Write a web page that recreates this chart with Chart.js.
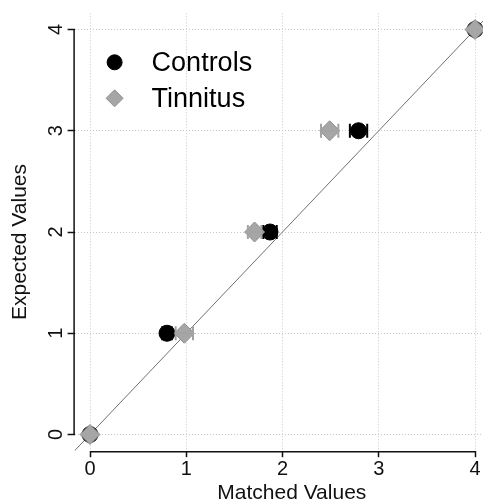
<!DOCTYPE html>
<html>
<head>
<meta charset="UTF-8">
<title>Expected vs Matched Values</title>
<script src="https://cdn.jsdelivr.net/npm/chart.js"></script>
<style>
  html, body { margin: 0; padding: 0; background: #fff; }
  #wrap { width: 483px; height: 504px; }
</style>
</head>
<body>
<div id="wrap"><canvas id="chart"></canvas></div>
<script>
// values
var tickValues = [0, 1, 2, 3, 4];
var expected = [0, 1, 2, 3, 4];
var controlsX = [0, 0.80, 1.87, 2.79, 4];
var controlsErr = [0, 0.05, 0.07, 0.09, 0];
var tinnitusX = [0, 0.98, 1.71, 2.49, 4];
var tinnitusErr = [0, 0.09, 0.07, 0.09, 0];
var identityLine = [-1, 6];

var FONT = '"Liberation Sans", Arial, Helvetica, sans-serif';

function points(xs) {
    return xs.map(function (x, i) { return {x: x, y: expected[i]}; });
}

// horizontal error bars, drawn right after each dataset
var errorBars = {
    id: 'errorBars',
    afterDatasetDraw: function (chart, args) {
        var ds = chart.data.datasets[args.index];
        if (!ds.errors) return;
        var xs = chart.scales.x, ys = chart.scales.y, ctx = chart.ctx;
        ctx.save();
        ctx.strokeStyle = ds.errorColor;
        ctx.lineWidth = 2;
        ds.data.forEach(function (p, i) {
            var e = ds.errors[i];
            if (!e) return;
            var x1 = xs.getPixelForValue(p.x - e), x2 = xs.getPixelForValue(p.x + e);
            var y = ys.getPixelForValue(p.y);
            ctx.beginPath();
            ctx.moveTo(x1, y); ctx.lineTo(x2, y);
            ctx.moveTo(x1, y - 7); ctx.lineTo(x1, y + 7);
            ctx.moveTo(x2, y - 7); ctx.lineTo(x2, y + 7);
            ctx.stroke();
        });
        ctx.restore();
    }
};

// R style axis lines, legend and axis titles
var decorations = {
    id: 'decorations',
    afterDraw: function (chart) {
        var xs = chart.scales.x, ys = chart.scales.y, ctx = chart.ctx;
        var area = chart.chartArea;
        var first = tickValues[0], last = tickValues[tickValues.length - 1];
        ctx.save();
        ctx.strokeStyle = '#111';
        ctx.lineWidth = 1.5;
        ctx.beginPath();
        ctx.moveTo(area.left - 0.5, ys.getPixelForValue(first));
        ctx.lineTo(area.left - 0.5, ys.getPixelForValue(last));
        ctx.moveTo(xs.getPixelForValue(first), area.bottom + 1);
        ctx.lineTo(xs.getPixelForValue(last), area.bottom + 1);
        ctx.stroke();

        // legend
        var lx = area.left + 40, ly = area.top + 49;
        ctx.font = '27px ' + FONT;
        ctx.textBaseline = 'middle';
        ctx.textAlign = 'left';
        chart.data.datasets.forEach(function (ds, i) {
            if (!ds.errors) return;
            var cy = ly + i * 36;
            ctx.beginPath();
            if (ds.pointStyle === 'circle') {
                ctx.arc(lx, cy, 7.5, 0, Math.PI * 2);
            } else {
                ctx.moveTo(lx - 8.5, cy); ctx.lineTo(lx, cy - 8.5);
                ctx.lineTo(lx + 8.5, cy); ctx.lineTo(lx, cy + 8.5);
                ctx.closePath();
            }
            ctx.fillStyle = ds.backgroundColor;
            ctx.fill();
            ctx.strokeStyle = ds.borderColor;
            ctx.lineWidth = 1;
            ctx.stroke();
            ctx.fillStyle = '#000';
            ctx.fillText(ds.label, lx + 37, cy + 1);
        });

        // axis titles
        ctx.font = '21px ' + FONT;
        ctx.fillStyle = '#111';
        ctx.textAlign = 'center';
        ctx.textBaseline = 'middle';
        ctx.fillText('Matched Values', (area.left + area.right) / 2 + 13, 493);
        ctx.translate(20, (area.top + area.bottom) / 2 + 10);
        ctx.rotate(-Math.PI / 2);
        ctx.fillText('Expected Values', 0, 0);
        ctx.restore();
    }
};

var ctx = document.getElementById('chart').getContext('2d');
var chart = new Chart(ctx, {
    type: 'scatter',
    data: {
        datasets: [
            {
                label: 'Controls',
                data: points(controlsX),
                errors: controlsErr,
                errorColor: '#000',
                pointStyle: 'circle',
                pointRadius: 8,
                pointHoverRadius: 8,
                backgroundColor: '#000',
                borderColor: '#000',
                borderWidth: 1,
                clip: false,
                order: 1
            },
            {
                label: 'Tinnitus',
                data: points(tinnitusX),
                errors: tinnitusErr,
                errorColor: '#a3a3a3',
                pointStyle: 'rectRot',
                pointRadius: 10,
                pointHoverRadius: 10,
                backgroundColor: '#a6a6a6',
                borderColor: '#8f8f8f',
                borderWidth: 1,
                clip: false,
                order: 0
            },
            {
                label: 'identity',
                data: identityLine.map(function (v) { return {x: v, y: v}; }),
                showLine: true,
                borderColor: '#707070',
                borderWidth: 1,
                pointRadius: 0,
                order: 2
            }
        ]
    },
    options: {
        responsive: true,
        maintainAspectRatio: false,
        animation: false,
        layout: {autoPadding: false, padding: {top: 13.3, right: 0, bottom: 0, left: 0}},
        plugins: {
            legend: {display: false},
            tooltip: {enabled: false}
        },
        scales: {
            x: {
                type: 'linear',
                min: -0.16,
                max: 4.083,
                afterBuildTicks: function (scale) {
                    scale.ticks = tickValues.map(function (v) { return {value: v}; });
                },
                afterFit: function (scale) {
                    scale.height = 53.3;
                    scale.paddingLeft = 0;
                    scale.paddingRight = 0;
                },
                border: {display: false, dash: [1, 2]},
                grid: {color: '#c8c8c8', lineWidth: 1, tickLength: 6.5, tickColor: '#111', tickWidth: 1.5},
                ticks: {
                    color: '#111',
                    padding: 0,
                    font: {family: FONT, size: 20},
                    maxRotation: 0
                }
            },
            y: {
                type: 'linear',
                min: -0.16,
                max: 4.16,
                afterBuildTicks: function (scale) {
                    scale.ticks = tickValues.map(function (v) { return {value: v}; });
                },
                afterFit: function (scale) {
                    scale.width = 74.6;
                    scale.paddingTop = 0;
                    scale.paddingBottom = 0;
                },
                border: {display: false, dash: [1, 2]},
                grid: {color: '#c8c8c8', lineWidth: 1, tickLength: 7, tickColor: '#111', tickWidth: 1.5},
                ticks: {
                    color: '#111',
                    padding: 6,
                    crossAlign: 'center',
                    minRotation: 90,
                    maxRotation: 90,
                    font: {family: FONT, size: 20}
                }
            }
        }
    },
    plugins: [errorBars, decorations]
});
</script>
</body>
</html>
